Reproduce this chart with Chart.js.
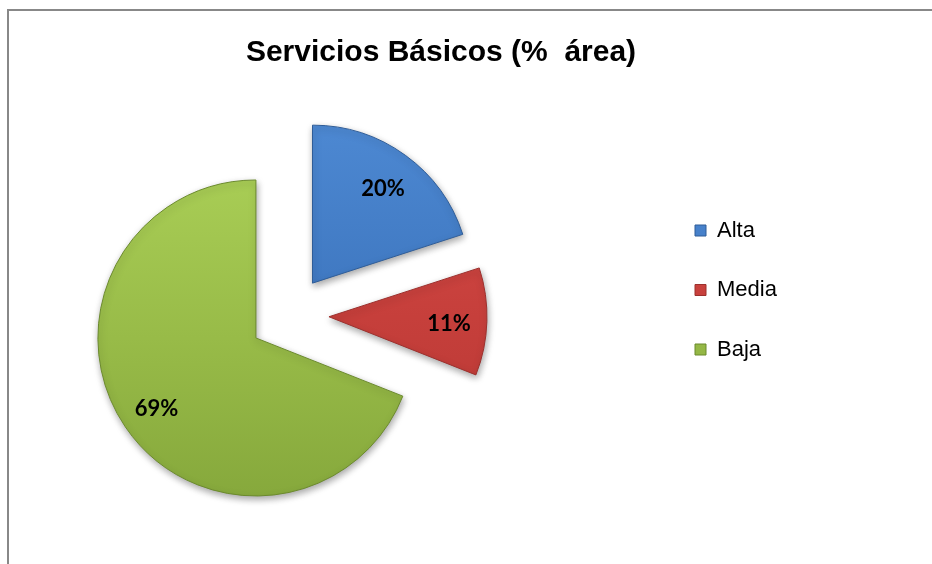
<!DOCTYPE html>
<html><head><meta charset="utf-8">
<script src="https://cdn.jsdelivr.net/npm/chart.js@4/dist/chart.umd.min.js"></script>
<style>
html,body{margin:0;padding:0;background:#fff;}
#wrap{position:relative;width:932px;height:564px;overflow:hidden;}
#frame{position:absolute;left:7px;top:9px;width:940px;height:600px;border-top:2px solid #888;border-left:2px solid #888;}
canvas{position:absolute;left:0;top:0;}
</style></head><body>
<div id="wrap"><div id="frame"></div><canvas id="c" width="932" height="564"></canvas></div>
<script>
// ---- data ----
const categories = ['Alta', 'Media', 'Baja'];
const values = [20, 11, 69];
const titleText = 'Servicios Básicos (%  área)';

// ---- styling / layout constants ----
const W = 932, H = 564;
const R = 158;            // pie radius (px)
const EXPLODE = 40;       // translation of each slice (px)
const TITLE_CX = 441, PIE_CX = 289;
const LEG_FONT = 22, LEG_BOX = 11, LEG_PAD = 37.5, BOX_X = 695;
const colorStops = [
  ['#508cd6', '#4079c2', '#376aad'],
  ['#d84e4a', '#c63f3b', '#b23632'],
  ['#acd158', '#98bb48', '#82a439']
];
const borderCols = ['#2f5d98', '#9c302d', '#6b8a2d'];

const mctx = document.createElement('canvas').getContext('2d');
mctx.font = LEG_FONT + 'px "Liberation Sans"';
const maxText = Math.max(...categories.map(t => mctx.measureText(t).width));
const legendRight = BOX_X + LEG_BOX + LEG_FONT / 2 + maxText + 10;
const padR = W - legendRight;
const padL = padR + 2 * TITLE_CX - W;
const legendLeft = BOX_X - LEG_PAD;
const SPACER = padL + legendLeft - 2 * PIE_CX;

const spacerPlugin = {
  id: 'spacer',
  beforeInit(chart) {
    const box = {
      position: 'right', weight: 10, fullSize: false, options: {},
      width: 0, height: 0, left: 0, top: 0, right: 0, bottom: 0,
      isHorizontal() { return false; },
      update(maxW, maxH) { this.width = SPACER; this.height = maxH; return {}; },
      draw() {}
    };
    Chart.layouts.addBox(chart, box);
  }
};

// keep every exploded slice at the same radius and its true angles
const radiusFix = {
  id: 'radiusFix',
  afterDatasetUpdate(chart, args) {
    args.meta.data.forEach(arc => {
      const circ = arc.endAngle - arc.startAngle;
      const fix = 1 - Math.sin(Math.min(Math.PI, circ));
      const off = (arc.options && arc.options.offset || 0) / 4;
      const ro = off * fix;
      arc.outerRadius = R - ro;
      const ao = ro / (2 * Math.PI * R);
      arc.startAngle -= ao;
      arc.endAngle += ao;
    });
  }
};

const shadowPlugin = {
  id: 'shadow',
  beforeDatasetsDraw(chart) {
    const ctx = chart.ctx;
    ctx.save();
    ctx.shadowColor = 'rgba(0,0,0,0.35)';
    ctx.shadowBlur = 7;
    ctx.shadowOffsetX = 1;
    ctx.shadowOffsetY = 3;
  },
  afterDatasetsDraw(chart) { chart.ctx.restore(); }
};

const labelPlugin = {
  id: 'sliceLabels',
  afterDraw(chart) {
    const meta = chart.getDatasetMeta(0);
    const ctx = chart.ctx;
    ctx.save();
    ctx.font = 'bold 22px Lato';
    ctx.fillStyle = '#000';
    ctx.textAlign = 'center';
    ctx.textBaseline = 'middle';
    meta.data.forEach((arc, i) => {
      const mid = (arc.startAngle + arc.endAngle) / 2;
      const off = (arc.options.offset || 0) / 4;
      const d = off + R * 0.76;
      ctx.fillText(values[i] + '%', arc.x + Math.cos(mid) * d, arc.y + Math.sin(mid) * d + 3);
    });
    ctx.restore();
  }
};

function grad(ctx) {
  const chart = ctx.chart;
  const a = chart.chartArea;
  const i = ctx.dataIndex;
  if (!a || i === undefined) return colorStops[i || 0][1];
  const cy = (a.top + a.bottom) / 2;
  const g = chart.ctx.createLinearGradient(0, cy - R - EXPLODE, 0, cy + R + EXPLODE);
  const s = colorStops[i];
  g.addColorStop(0, s[0]); g.addColorStop(0.5, s[1]); g.addColorStop(1, s[2]);
  return g;
}

new Chart(document.getElementById('c'), {
  type: 'pie',
  data: {
    labels: categories,
    datasets: [{
      data: values,
      backgroundColor: grad,
      borderColor: borderCols,
      borderWidth: 1,
      offset: EXPLODE * 4,
      radius: R
    }]
  },
  options: {
    responsive: false,
    animation: false,
    layout: { padding: { left: padL, right: padR, top: 21, bottom: 5 } },
    plugins: {
      tooltip: { enabled: false },
      title: {
        display: true, text: titleText, color: '#000',
        font: { family: '"Liberation Sans", Arial', size: 30, weight: 'bold', lineHeight: 1.2 },
        padding: { top: 14, bottom: 1 }
      },
      legend: {
        position: 'right', align: 'center',
        labels: {
          color: '#000', boxWidth: LEG_BOX, boxHeight: LEG_BOX, padding: LEG_PAD,
          font: { family: '"Liberation Sans", Arial', size: LEG_FONT }
        }
      }
    }
  },
  plugins: [spacerPlugin, radiusFix, shadowPlugin, labelPlugin]
});
</script>
</body></html>
